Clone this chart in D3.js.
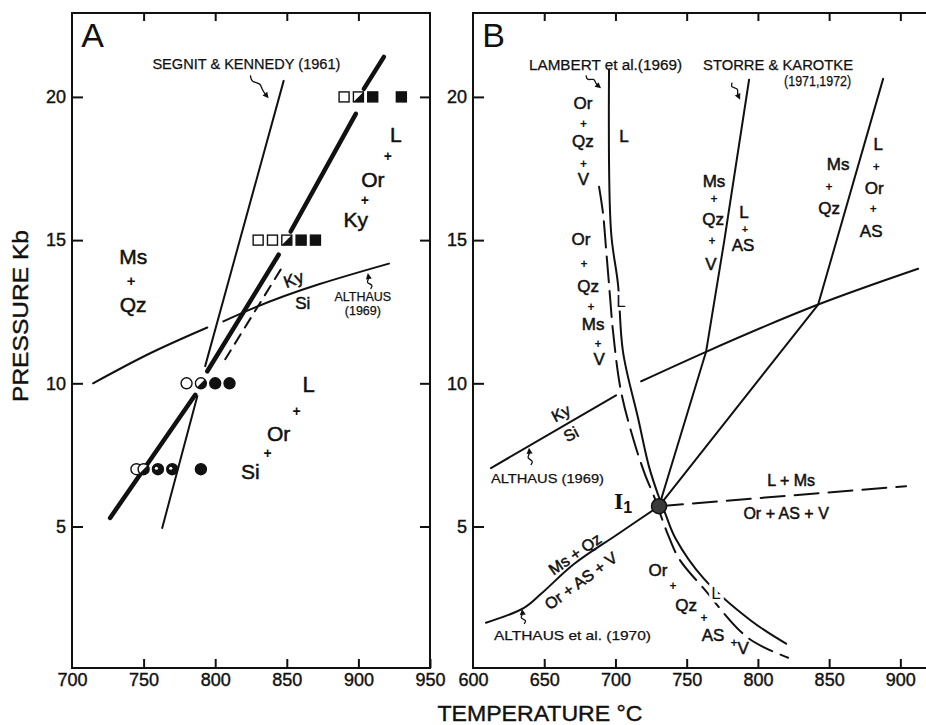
<!DOCTYPE html>
<html>
<head>
<meta charset="utf-8">
<script src="https://cdn.jsdelivr.net/npm/d3@7"></script>
<style>
    body { margin: 0; background: #fff; }
    svg { display: block; font-family: "Liberation Sans", Arial, sans-serif; }
</style>
</head>
<body>
<svg id="chart" width="926" height="725"></svg>
<script>
// ---------- data (temperature in deg C, pressure in kb) ----------
const tempTicksA = [700, 750, 800, 850, 900, 950];
const tempTicksB = [600, 650, 700, 750, 800, 850, 900];
const pressTicks = [5, 10, 15, 20];

// experimental runs, panel A
const runPressures = [20, 15, 10, 7];
const runShapes = ['square', 'square', 'circle', 'circle'];
const runTemps = [
    [890, 900, 910, 930],
    [830, 840, 850, 860, 870],
    [780, 790, 800, 810],
    [745, 750, 760, 770, 790]
];
const runStates = [
    ['open', 'half', 'full', 'full'],
    ['open', 'open', 'half', 'full', 'full'],
    ['open', 'half', 'full', 'full'],
    ['open', 'half', 'dark', 'dark', 'full']
];

// panel A curves
const thickCurveA = [
    [[917.8, 21.4], [903.8, 20.28]],
    [[898.2, 19.41], [852.7, 15.3]],
    [[844.3, 14.49], [794.5, 10.42]],
    [[786.1, 9.6], [726.6, 5.3]]
];
const segnitCurveA = [
    [[847.8, 20.56], [793, 10.6]],
    [[787.5, 9.55], [763, 4.95]]
];
const dashedCurveA = [[845.7, 13.97], [807, 10.84]];
const althausCurveA = [
    [[714.7, 10.0], [754.6, 11.05], [794.5, 11.95]],
    [[805.7, 12.16], [824.6, 12.58], [921.3, 14.18]]
];

// panel B curves
const althausCurveB = [
    [[612.6, 7.04], [700.4, 9.58]],
    [[718, 10.07], [763.6, 11.1], [842.3, 12.75], [912.5, 14.0]]
];
const storreCurveB = [[730.6, 5.71], [763.6, 11.1], [776.3, 14.95], [793.8, 20.6]];
const muscoviteCurveB = [[730.6, 5.71], [842.3, 12.75], [887.9, 20.63]];
const lambertSolidB = [[695.5, 20.97], [696.9, 15.3], [701.8, 13.45], [705.3, 11.1], [715.9, 8.78],
    [723.5, 7.1], [730, 6.1], [735, 5.45], [742, 4.6], [762.2, 3.17], [795.2, 1.71], [819.8, 0.91]];
const lambertDashedB = [[688.5, 16.86], [691.3, 15.92], [693.4, 14.7], [695.5, 13.45], [698.3, 11.81],
    [703.9, 9.72], [713, 7.98], [720.5, 6.85], [727.5, 6.0], [731, 5.5], [737, 4.7], [744.7, 3.87],
    [762.2, 2.82], [793.1, 1.11], [821.2, 0.42]];
const althaus1970B = [[609.1, 1.64], [635.8, 2.16], [647.8, 2.65], [670.9, 3.69], [701.8, 4.74], [730.6, 5.71]];
const meltingDashedB = [[730.6, 5.71], [904, 6.41]];
const invariantPoint = [730.6, 5.71];

// ---------- layout ----------
const svg = d3.select('#chart');
const y = d3.scaleLinear().domain([0.06, 22.93]).range([668, 13]);
const xA = d3.scaleLinear().domain([700, 950]).range([72, 430]);
const xB = d3.scaleLinear().domain([600, 918]).range([473, 926]);

const ink = '#111';

function drawPanel(x, ticks, opts) {
    const g = svg.append('g');
    const [x0, x1] = x.range();
    const [yb, yt] = y.range();

    // frame
    g.append('path')
        .attr('d', opts.rightEdge
            ? `M${x0},${yt}H${x1}V${yb}H${x0}Z`
            : `M${x1 + 2},${yt}H${x0}V${yb}H${x1 + 2}`)
        .attr('fill', 'none')
        .attr('stroke', ink)
        .attr('stroke-width', 2);

    const inner = ticks.slice(1, ticks.length - (opts.rightEdge ? 1 : 0));

    const bottom = g.append('g')
        .attr('transform', `translate(0,${yb})`)
        .call(d3.axisBottom(x).tickValues(ticks).tickSize(-9).tickPadding(5).tickFormat(d3.format('d')));
    const left = g.append('g')
        .attr('transform', `translate(${x0},0)`)
        .call(d3.axisLeft(y).tickValues(pressTicks).tickSize(-11).tickPadding(6).tickFormat(d3.format('d')));
    const top = g.append('g')
        .attr('transform', `translate(0,${yt})`)
        .call(d3.axisTop(x).tickValues(inner).tickSize(-8).tickFormat(''));
    const axes = [bottom, left, top];
    if (opts.rightEdge) {
        axes.push(g.append('g')
            .attr('transform', `translate(${x1},0)`)
            .call(d3.axisRight(y).tickValues(pressTicks).tickSize(-10).tickFormat('')));
    }
    axes.forEach((a) => {
        a.select('.domain').remove();
        a.selectAll('line').attr('stroke', ink).attr('stroke-width', 2);
        a.selectAll('text')
            .attr('fill', ink)
            .attr('stroke', ink)
            .attr('stroke-width', 0.4)
            .attr('font-size', 18)
            .attr('font-family', '"Liberation Sans", Arial, sans-serif');
    });
    // the first tick sits on the frame corner
    bottom.selectAll('.tick line').filter((d) => d === ticks[0]).remove();
    return g;
}

const gA = drawPanel(xA, tempTicksA, {rightEdge: true});
const gB = drawPanel(xB, tempTicksB, {rightEdge: false});

// ---------- helpers ----------
function lineFor(x, curve) {
    return d3.line().x((d) => x(d[0])).y((d) => y(d[1])).curve(curve || d3.curveLinear);
}

function strokePath(g, pts, x, width, dash, curve) {
    g.append('path')
        .attr('d', lineFor(x, curve)(pts))
        .attr('fill', 'none')
        .attr('stroke', ink)
        .attr('stroke-width', width)
        .attr('stroke-linecap', 'round')
        .attr('stroke-linejoin', 'round')
        .attr('stroke-dasharray', dash || null);
}

function label(g, x, T, P, text, opts = {}) {
    const px = x(T), py = y(P);
    const t = g.append('text')
        .attr('x', px)
        .attr('y', py)
        .attr('text-anchor', opts.anchor || 'middle')
        .attr('dominant-baseline', 'central')
        .attr('font-size', opts.size || 16)
        .attr('font-weight', opts.bold ? 'bold' : null)
        .attr('fill', ink)
        .text(text);
    if (opts.rotate) t.attr('transform', `rotate(${opts.rotate},${px},${py})`);
    if (opts.halo) {
        t.attr('stroke', '#fff').attr('stroke-width', 7).attr('paint-order', 'stroke');
    } else if (!opts.bold) {
        t.attr('stroke', ink).attr('stroke-width', opts.size >= 16 ? 0.5 : 0.25);
    }
    if (opts.length) t.attr('textLength', opts.length).attr('lengthAdjust', 'spacingAndGlyphs');
    return t;
}

function plus(g, x, T, P, size) {
    return label(g, x, T, P, '+', {size: size || 14, bold: true});
}

// little wavy arrow pointing from the caption towards a curve
function squiggle(g, x, from, to) {
    const x0 = x(from[0]), y0 = y(from[1]), x1 = x(to[0]), y1 = y(to[1]);
    const len = Math.hypot(x1 - x0, y1 - y0);
    const dx = (x1 - x0) / len, dy = (y1 - y0) / len;
    const nx = -dy, ny = dx;
    const pts = [
        [x0, y0],
        [x0 + dx * len * 0.2 + nx * 3.5, y0 + dy * len * 0.2 + ny * 3.5],
        [x0 + dx * len * 0.42 - nx * 3.5, y0 + dy * len * 0.42 - ny * 3.5],
        [x0 + dx * len * 0.62, y0 + dy * len * 0.62],
        [x1 - dx * 3, y1 - dy * 3]
    ];
    g.append('path')
        .attr('d', d3.line().curve(d3.curveBasis)(pts))
        .attr('fill', 'none')
        .attr('stroke', ink)
        .attr('stroke-width', 1.3);
    const h = 6, w = 3;
    g.append('path')
        .attr('d', `M${x1},${y1}L${x1 - dx * h + nx * w},${y1 - dy * h + ny * w}L${x1 - dx * h - nx * w},${y1 - dy * h - ny * w}Z`)
        .attr('fill', ink);
}

// ---------- panel A ----------
thickCurveA.forEach((seg) => strokePath(gA, seg, xA, 4.5));
segnitCurveA.forEach((seg) => strokePath(gA, seg, xA, 2));
strokePath(gA, dashedCurveA, xA, 2, '11,8');
althausCurveA.forEach((seg) => strokePath(gA, seg, xA, 2, null, d3.curveMonotoneX));

// run symbols
runPressures.forEach((P, r) => {
    runTemps[r].forEach((T, i) => {
        const cx = xA(T), cy = y(P);
        const state = runStates[r][i];
        const s = runShapes[r] === 'square' ? 5 : 5.5;
        const sym = gA.append('g');
        if (runShapes[r] === 'square') {
            sym.append('rect')
                .attr('x', cx - s).attr('y', cy - s)
                .attr('width', 2 * s).attr('height', 2 * s)
                .attr('fill', state === 'open' || state === 'half' ? '#fff' : ink)
                .attr('stroke', ink).attr('stroke-width', 1.4);
            if (state === 'half') {
                sym.append('path')
                    .attr('d', `M${cx + s},${cy - s}L${cx + s},${cy + s}L${cx - s},${cy + s}Z`)
                    .attr('fill', ink);
            }
        } else {
            sym.append('circle')
                .attr('cx', cx).attr('cy', cy).attr('r', s)
                .attr('fill', state === 'open' || state === 'half' ? '#fff' : ink)
                .attr('stroke', ink).attr('stroke-width', 1.4);
            if (state === 'half') {
                const k = s * Math.SQRT1_2;
                sym.append('path')
                    .attr('d', `M${cx + k},${cy - k}A${s},${s} 0 0 1 ${cx - k},${cy + k}Z`)
                    .attr('fill', ink);
            }
            if (state === 'dark') {
                sym.append('circle')
                    .attr('cx', cx - 1.5).attr('cy', cy - 1)
                    .attr('r', 1.6).attr('fill', '#fff');
            }
        }
    });
});

gA.append('text')
    .attr('x', xA(706.5)).attr('y', y(21.75))
    .attr('font-size', 34).attr('fill', ink)
    .text('A');

label(gA, xA, 821.8, 21.15, 'SEGNIT & KENNEDY (1961)', {size: 14, length: 188});
squiggle(gA, xA, [824.6, 20.75], [837.3, 19.95]);

label(gA, xA, 742.7, 14.42, 'Ms', {size: 21});
plus(gA, xA, 741.3, 13.6, 15);
label(gA, xA, 742.7, 12.75, 'Qz', {size: 21});

label(gA, xA, 854.8, 13.62, 'Ky', {size: 17, rotate: -20});
label(gA, xA, 861.1, 12.8, 'Si', {size: 17});
label(gA, xA, 903.1, 13.03, 'ALTHAUS', {size: 12.5});
label(gA, xA, 903.1, 12.51, '(1969)', {size: 12.5});
squiggle(gA, xA, [908.5, 13.3], [906.6, 13.85]);

label(gA, xA, 926.2, 18.68, 'L', {size: 21});
plus(gA, xA, 920.6, 17.94);
label(gA, xA, 910.1, 17.11, 'Or', {size: 21});
plus(gA, xA, 904.5, 16.41);
label(gA, xA, 898.2, 15.71, 'Ky', {size: 21});

label(gA, xA, 865.3, 9.97, 'L', {size: 22});
plus(gA, xA, 856.9, 9.02);
label(gA, xA, 844.3, 8.26, 'Or', {size: 21});
plus(gA, xA, 836.6, 7.56);
label(gA, xA, 824.6, 6.93, 'Si', {size: 21});

// ---------- panel B ----------
althausCurveB.forEach((seg) => strokePath(gB, seg, xB, 2, null, d3.curveMonotoneX));
strokePath(gB, storreCurveB, xB, 2);
strokePath(gB, muscoviteCurveB, xB, 2);
strokePath(gB, lambertSolidB, xB, 2, null, d3.curveCatmullRom);
strokePath(gB, lambertDashedB, xB, 2, '26,9', d3.curveCatmullRom);
strokePath(gB, althaus1970B, xB, 2, null, d3.curveCatmullRom);
strokePath(gB, meltingDashedB, xB, 2, '24,10');

gB.append('circle')
    .attr('cx', xB(invariantPoint[0])).attr('cy', y(invariantPoint[1]))
    .attr('r', 7.5)
    .attr('fill', '#3a3a3a').attr('stroke', ink).attr('stroke-width', 1.5);

gB.append('text')
    .attr('x', xB(606.5)).attr('y', y(21.75))
    .attr('font-size', 34).attr('fill', ink)
    .text('B');

label(gB, xB, 639.3, 21.1, 'LAMBERT et al.(1969)', {size: 14, anchor: 'start', length: 153});
squiggle(gB, xB, [679.4, 20.75], [689.9, 20.3]);
label(gB, xB, 761.5, 21.1, 'STORRE & KAROTKE', {size: 14, anchor: 'start', length: 150});
label(gB, xB, 818.4, 20.55, '(1971,1972)', {size: 14, anchor: 'start', length: 67});
squiggle(gB, xB, [781.9, 20.5], [787.5, 19.9]);

label(gB, xB, 677.2, 19.76, 'Or', {size: 17});
plus(gB, xB, 677.6, 19.06, 12);
label(gB, xB, 677.2, 18.43, 'Qz', {size: 17});
plus(gB, xB, 677.6, 17.67, 12);
label(gB, xB, 677.6, 17.11, 'V', {size: 17});
label(gB, xB, 706, 18.61, 'L', {size: 17});

label(gB, xB, 769.2, 17.04, 'Ms', {size: 17});
plus(gB, xB, 769.2, 16.42, 12);
label(gB, xB, 768.5, 15.71, 'Qz', {size: 17});
plus(gB, xB, 767.8, 14.98, 12);
label(gB, xB, 767.1, 14.15, 'V', {size: 17});

label(gB, xB, 790.3, 15.95, 'L', {size: 17});
plus(gB, xB, 791, 15.4, 11);
label(gB, xB, 789.6, 14.8, 'AS', {size: 17});

label(gB, xB, 856.3, 17.63, 'Ms', {size: 17});
plus(gB, xB, 850, 16.86, 12);
label(gB, xB, 850, 16.1, 'Qz', {size: 17});

label(gB, xB, 884.4, 18.33, 'L', {size: 17});
plus(gB, xB, 883, 17.56, 12);
label(gB, xB, 881.6, 16.79, 'Or', {size: 17});
plus(gB, xB, 880.9, 16.1, 12);
label(gB, xB, 879.5, 15.3, 'AS', {size: 17});

label(gB, xB, 675.8, 15.02, 'Or', {size: 17});
plus(gB, xB, 678, 14.18, 12);
label(gB, xB, 680.8, 13.38, 'Qz', {size: 17});
plus(gB, xB, 682.9, 12.68, 12);
label(gB, xB, 684.3, 12.06, 'Ms', {size: 17});
plus(gB, xB, 687.8, 11.39, 12);
label(gB, xB, 688.5, 10.84, 'V', {size: 17});
label(gB, xB, 703.9, 12.86, 'L', {size: 17, halo: true});

label(gB, xB, 661.8, 8.95, 'Ky', {size: 16, rotate: -28});
label(gB, xB, 668.8, 8.22, 'Si', {size: 16, rotate: -28});
label(gB, xB, 612.6, 6.66, 'ALTHAUS  (1969)', {size: 13.5, anchor: 'start', length: 113});
squiggle(gB, xB, [640.5, 7.15], [639.3, 7.75]);

const i1 = gB.append('text')
    .attr('x', xB(705.3)).attr('y', y(5.89))
    .attr('text-anchor', 'middle').attr('dominant-baseline', 'central')
    .attr('font-family', '"Liberation Serif", serif')
    .attr('font-weight', 'bold')
    .attr('font-size', 24).attr('fill', ink);
i1.append('tspan').text('I');
i1.append('tspan').attr('font-size', 16).attr('dy', 6)
    .attr('font-family', '"Liberation Sans", Arial, sans-serif').text('1');

label(gB, xB, 823.3, 6.62, 'L + Ms', {size: 16});
label(gB, xB, 819.8, 5.45, 'Or  +  AS + V', {size: 16});

label(gB, xB, 671.6, 4.04, 'Ms + Qz', {size: 16, rotate: -35});
label(gB, xB, 675.8, 3.1, 'Or + AS + V', {size: 16, rotate: -36});
squiggle(gB, xB, [635.8, 1.6], [634.4, 2.12]);
label(gB, xB, 614.7, 1.18, 'ALTHAUS et al. (1970)', {size: 13.5, anchor: 'start', length: 157});

label(gB, xB, 729.9, 3.45, 'Or', {size: 17});
plus(gB, xB, 740.4, 2.93, 12);
label(gB, xB, 749.6, 2.23, 'Qz', {size: 17});
plus(gB, xB, 762.2, 1.81, 12);
label(gB, xB, 768.5, 1.18, 'AS', {size: 17});
plus(gB, xB, 783.3, 0.94, 12);
label(gB, xB, 789.6, 0.73, 'V', {size: 17});
label(gB, xB, 770.6, 2.65, 'L', {size: 17, halo: true});

// ---------- axis titles ----------
svg.append('text')
    .attr('transform', 'translate(28,316) rotate(-90)')
    .attr('text-anchor', 'middle')
    .attr('font-size', 22).attr('fill', ink)
    .attr('stroke', ink).attr('stroke-width', 0.4)
    .attr('textLength', 172).attr('lengthAdjust', 'spacingAndGlyphs')
    .text('PRESSURE Kb');

svg.append('text')
    .attr('x', 540).attr('y', 721)
    .attr('text-anchor', 'middle')
    .attr('font-size', 22).attr('fill', ink)
    .attr('stroke', ink).attr('stroke-width', 0.4)
    .attr('textLength', 205).attr('lengthAdjust', 'spacingAndGlyphs')
    .text('TEMPERATURE  °C');
</script>
</body>
</html>
